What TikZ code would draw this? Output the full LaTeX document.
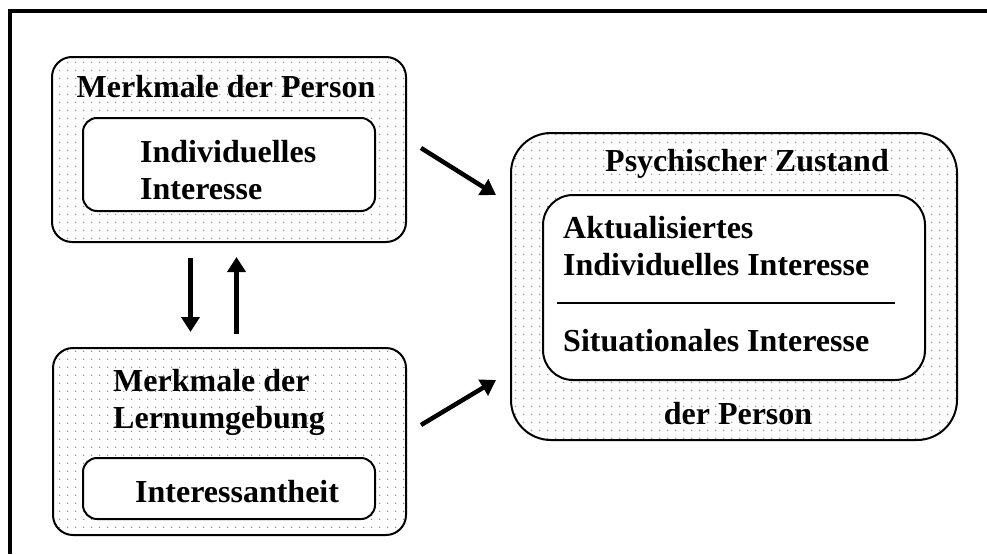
\documentclass[tikz,border=0pt]{standalone}
\usepackage{fontspec}
\setmainfont{Liberation Serif}
\usepackage{tikz}
\usetikzlibrary{positioning, arrows.meta, patterns}

\pgfdeclarepatternformonly{graydots}{\pgfpointorigin}{\pgfpoint{8pt}{8pt}}{\pgfpoint{8pt}{8pt}}{
    \pgfpathcircle{\pgfpoint{4pt}{4pt}}{0.9pt}
    \pgfusepath{fill}
}

\begin{document}
\begin{tikzpicture}[
    x=1pt, y=-1pt,
    font=\bfseries\fontsize{32}{37}\selectfont,
    outerbox/.style={draw, line width=2pt, rounded corners=20pt,
        pattern=graydots, pattern color=gray!85, inner sep=0pt},
    innerbox/.style={draw, line width=2pt, rounded corners=14pt,
        fill=white, inner sep=0pt},
    label/.style={inner sep=0pt, align=left},
    flow/.style={line width=4.5pt, -{Triangle[length=15pt,width=18pt]}}
]
    \useasboundingbox (0,0) rectangle (987,554);
    % frame
    \draw[line width=3.5pt] (10,554) |- (987,11);

    % left boxes
    \node[outerbox, minimum width=354pt, minimum height=185pt] (person) at (229,149.5) {};
    \node[innerbox, minimum width=292pt, minimum height=93pt] (indiv) at (229,164.5) {};
    \node[outerbox, minimum width=353pt, minimum height=187pt] (umgebung) at (229.5,441.5) {};
    \node[innerbox, minimum width=292pt, minimum height=61pt] (antheit) at (229,488.5) {};

    % right box
    \node[outerbox, rounded corners=40pt, minimum width=446pt, minimum height=307pt] (zustand) at (734,286.5) {};
    \node[innerbox, rounded corners=30pt, minimum width=382pt, minimum height=185pt] (aktuell) at (734,287.5) {};

    % texts
    \node[label] (personT) at (226,87) {Merkmale der Person};
    \node[label, anchor=west] (indivT) at (140,170) {Individuelles\\Interesse};
    \node[label, anchor=west] (umgebungT) at (113,402) {Merkmale der\\Lernumgebung};
    \node[label, anchor=west] (antheitT) at (135,492) {Interessantheit};
    \node[label] (zustandT) at (747,164) {Psychischer Zustand};
    \node[label, anchor=west] (aktuellT) at (563,246) {Aktualisiertes\\Individuelles Interesse};
    \node[label, anchor=west] (situT) at (563,341) {Situationales Interesse};
    \node[label] (derT) at (738,414) {der Person};

    % separator
    \coordinate (sepL) at (557,303);
    \coordinate (sepR) at (895,303);
    \draw[line width=1.2pt] (sepL) -- (sepR);

    % arrows
    \draw[flow, shorten <=15pt, shorten >=15pt]
        ([xshift=-38.5pt]person.south) -- ([xshift=-39pt]umgebung.north);
    \draw[flow, shorten <=13pt, shorten >=14pt]
        ([xshift=7pt]umgebung.north) -- ([xshift=7.5pt]person.south);
    \draw[flow] ([xshift=14pt, yshift=1.5pt]person.east)
        -- ([xshift=-14pt, yshift=91.5pt]zustand.west);
    \draw[flow] ([xshift=14pt, yshift=16.5pt]umgebung.east)
        -- ([xshift=-14pt, yshift=-93.5pt]zustand.west);
\end{tikzpicture}
\end{document}
